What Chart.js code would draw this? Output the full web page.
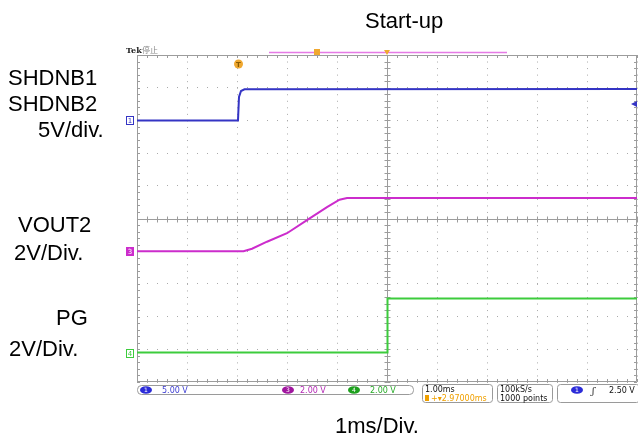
<!DOCTYPE html>
<html>
<head>
<meta charset="utf-8">
<script src="https://cdn.jsdelivr.net/npm/chart.js@4.4.0/dist/chart.umd.min.js"></script>
<style>
  body { margin: 0; background: #fff; }
  #wrap { position: relative; width: 638px; height: 439px; overflow: hidden; }
  #scope { position: absolute; left: 0; top: 0; }
  .lbl { position: absolute; font-family: "Liberation Sans", Arial, sans-serif; font-size: 22px; line-height: 22px; color: #000; white-space: nowrap; }
</style>
</head>
<body>
<div id="wrap">
  <canvas id="scope" width="638" height="439"></canvas>
  <div class="lbl" style="left:365px;top:10px">Start-up</div>
  <div class="lbl" style="left:8px;top:67px">SHDNB1</div>
  <div class="lbl" style="left:8px;top:93px">SHDNB2</div>
  <div class="lbl" style="left:38px;top:119px">5V/div.</div>
  <div class="lbl" style="left:18px;top:214px">VOUT2</div>
  <div class="lbl" style="left:14px;top:242px">2V/Div.</div>
  <div class="lbl" style="left:56px;top:307px">PG</div>
  <div class="lbl" style="left:9px;top:338px">2V/Div.</div>
  <div class="lbl" style="left:335px;top:415px">1ms/Div.</div>
</div>
<script>
// time axis: 1 ms/div, 10 divisions on screen (values in ms from left edge)
const timeMin = 0, timeMax = 10;

// CH1 SHDNB1/SHDNB2 (5 V/div)
const ch1Time = [0, 2.02, 2.04, 2.08, 2.15, 10];
const ch1Volt = [0, 0, 3.6, 4.5, 4.75, 4.8];

// CH3 VOUT2 (2 V/div)
const ch3Time = [0, 2.13, 2.3, 2.6, 3.0, 3.4, 3.8, 4.05, 4.2, 10];
const ch3Volt = [0, 0, 0.15, 0.58, 1.1, 1.9, 2.7, 3.15, 3.25, 3.25];

// CH4 PG (2 V/div)
const ch4Time = [0, 5.0, 5.01, 10];
const ch4Volt = [0, 0, 3.3, 3.3];

// trigger on CH1, rising edge
const trigTime = 2.03;
const trigLevel = 2.5;

// vertical setup per channel (volts/div, ground offset in div)
const channels = [
  { num: '1', color: '#3434c4', vdiv: 5, offset: 3.0, t: ch1Time, v: ch1Volt, solid: false },
  { num: '3', color: '#cc2ccc', vdiv: 2, offset: -1.0, t: ch3Time, v: ch3Volt, solid: true },
  { num: '4', color: '#3ccc3c', vdiv: 2, offset: -4.1, t: ch4Time, v: ch4Volt, solid: false }
];

const datasets = channels.map(ch => ({
  data: ch.t.map((t, i) => ({ x: t, y: ch.offset + ch.v[i] / ch.vdiv })),
  borderColor: ch.color,
  borderWidth: 2,
  pointRadius: 0,
  tension: 0,
  fill: false
}));

const uiFont = '8px "DejaVu Sans", sans-serif';

const scopeDecor = {
  id: 'scopeDecor',
  beforeDatasetsDraw(chart) {
    const { ctx, chartArea: a, scales: { x, y } } = chart;
    ctx.save();
    ctx.strokeStyle = '#9c9c9c';
    ctx.lineWidth = 1;
    const cx = Math.round(x.getPixelForValue(5)) + 0.5;
    const cy = Math.round(y.getPixelForValue(0)) + 0.5;
    ctx.beginPath();
    // frame
    ctx.moveTo(a.left + 0.5, a.top + 0.5); ctx.lineTo(a.right - 0.5, a.top + 0.5);
    ctx.lineTo(a.right - 0.5, a.bottom - 0.5); ctx.lineTo(a.left + 0.5, a.bottom - 0.5);
    ctx.closePath();
    // crosshair
    ctx.moveTo(a.left, cy); ctx.lineTo(a.right, cy);
    ctx.moveTo(cx, a.top); ctx.lineTo(cx, a.bottom);
    for (let k = 0; k <= 50; k++) {
      const px = Math.round(x.getPixelForValue(k * 0.2)) + 0.5;
      ctx.moveTo(px, cy - 3); ctx.lineTo(px, cy + 3);
      ctx.moveTo(px, a.top); ctx.lineTo(px, a.top + 3);
      ctx.moveTo(px, a.bottom); ctx.lineTo(px, a.bottom - 3);
    }
    for (let k = 0; k <= 50; k++) {
      const py = Math.round(y.getPixelForValue(-5 + k * 0.2)) + 0.5;
      ctx.moveTo(cx - 3, py); ctx.lineTo(cx + 3, py);
      ctx.moveTo(a.left, py); ctx.lineTo(a.left + 3, py);
      ctx.moveTo(a.right, py); ctx.lineTo(a.right - 3, py);
    }
    ctx.stroke();
    ctx.restore();
  },
  afterDraw(chart) {
    const { ctx, chartArea: a, scales: { x, y } } = chart;
    ctx.save();
    ctx.textBaseline = 'alphabetic';

    // channel ground markers
    channels.forEach(ch => {
      const py = Math.round(y.getPixelForValue(ch.offset));
      ctx.fillStyle = ch.solid ? ch.color : '#fff';
      ctx.strokeStyle = ch.color;
      ctx.lineWidth = 1;
      ctx.fillRect(a.left - 11, py - 4, 8, 9);
      ctx.strokeRect(a.left - 10.5, py - 3.5, 7, 8);
      ctx.fillStyle = ch.solid ? '#fff' : ch.color;
      ctx.font = '7px "DejaVu Sans", sans-serif';
      ctx.textAlign = 'center';
      ctx.fillText(ch.num, a.left - 7, py + 3);
    });

    // trigger position marker
    const tx = x.getPixelForValue(trigTime);
    ctx.fillStyle = '#f0a830';
    ctx.beginPath(); ctx.arc(tx, a.top + 9, 4.5, 0, Math.PI * 2); ctx.fill();
    ctx.fillStyle = '#8a5a00';
    ctx.font = 'bold 7px "DejaVu Sans", sans-serif';
    ctx.textAlign = 'center';
    ctx.fillText('T', tx, a.top + 11.5);

    // trigger level marker (right edge)
    const ly = y.getPixelForValue(channels[0].offset + trigLevel / channels[0].vdiv);
    ctx.fillStyle = '#3434c4';
    ctx.beginPath();
    ctx.moveTo(a.right - 6, ly); ctx.lineTo(a.right, ly - 3); ctx.lineTo(a.right, ly + 3);
    ctx.closePath(); ctx.fill();

    // top bar: Tek label, record view, markers
    ctx.textAlign = 'left';
    ctx.fillStyle = '#222';
    ctx.font = 'bold 8px "DejaVu Serif", serif';
    ctx.fillText('Tek', a.left - 11, a.top - 2);
    ctx.fillStyle = '#8a8a8a';
    ctx.font = '8px "Noto Sans CJK SC", sans-serif';
    ctx.fillText('停止', a.left + 5, a.top - 2);
    ctx.strokeStyle = '#e57ae5';
    ctx.lineWidth = 1.5;
    ctx.beginPath(); ctx.moveTo(269, a.top - 2.5); ctx.lineTo(507, a.top - 2.5); ctx.stroke();
    ctx.fillStyle = '#f0a830';
    ctx.fillRect(314, a.top - 6, 6, 6);
    const mx = x.getPixelForValue(5);
    ctx.beginPath();
    ctx.moveTo(mx - 3, a.top - 5); ctx.lineTo(mx + 3, a.top - 5); ctx.lineTo(mx, a.top);
    ctx.closePath(); ctx.fill();

    // status bar
    const sy = a.bottom + 3;
    ctx.strokeStyle = '#9a9a9a';
    ctx.lineWidth = 1;
    ctx.beginPath(); ctx.roundRect(a.left + 0.5, sy + 0.5, 276, 9, 4); ctx.stroke();
    ctx.beginPath(); ctx.roundRect(422.5, sy - 0.5, 70, 18, 3); ctx.stroke();
    ctx.beginPath(); ctx.roundRect(497.5, sy - 0.5, 55, 18, 3); ctx.stroke();
    ctx.beginPath(); ctx.roundRect(557.5, sy - 0.5, 82, 18, 3); ctx.stroke();

    const oval = (cxp, color, label) => {
      ctx.fillStyle = color;
      ctx.beginPath(); ctx.ellipse(cxp, sy + 5, 6, 3.8, 0, 0, Math.PI * 2); ctx.fill();
      ctx.fillStyle = '#fff';
      ctx.font = '6px "DejaVu Sans", sans-serif';
      ctx.textAlign = 'center';
      ctx.fillText(label, cxp, sy + 7);
    };
    oval(146, '#2c2cd8', '1');
    oval(288, '#a0169e', '3');
    oval(354, '#1ea01e', '4');
    oval(577, '#2c2cd8', '1');

    ctx.font = uiFont;
    ctx.textAlign = 'left';
    ctx.fillStyle = '#3c3cd2'; ctx.fillText('5.00 V', 162, sy + 8);
    ctx.fillStyle = '#b428b4'; ctx.fillText('2.00 V', 300, sy + 8);
    ctx.fillStyle = '#28aa28'; ctx.fillText('2.00 V', 370, sy + 8);
    ctx.fillStyle = '#111'; ctx.fillText('1.00ms', 425, sy + 7);
    ctx.fillStyle = '#f0a000'; ctx.fillRect(425, sy + 10, 4, 6);
    ctx.fillText('+\u25BE2.97000ms', 431, sy + 16);
    ctx.fillStyle = '#111';
    ctx.fillText('100kS/s', 500, sy + 7);
    ctx.fillText('1000 points', 500, sy + 16);
    ctx.font = 'italic 9px "DejaVu Serif", serif';
    ctx.fillText('\u0283', 592, sy + 9);
    ctx.font = uiFont;
    ctx.fillText('2.50 V', 609, sy + 8);
    ctx.restore();
  }
};

new Chart(document.getElementById('scope'), {
  type: 'line',
  data: { datasets },
  plugins: [scopeDecor],
  options: {
    responsive: false,
    animation: false,
    layout: { padding: { left: 137, right: 1, top: 55, bottom: 57 } },
    plugins: { legend: { display: false }, tooltip: { enabled: false } },
    scales: {
      x: {
        type: 'linear', min: timeMin, max: timeMax,
        ticks: { display: false, stepSize: 1 },
        grid: { color: '#aaaaaa', drawTicks: false },
        border: { display: false, dash: [1, 5.54] }
      },
      y: {
        type: 'linear', min: -5, max: 5,
        ticks: { display: false, stepSize: 1 },
        grid: { color: '#aaaaaa', drawTicks: false },
        border: { display: false, dash: [1, 9] }
      }
    }
  }
});
</script>
</body>
</html>
